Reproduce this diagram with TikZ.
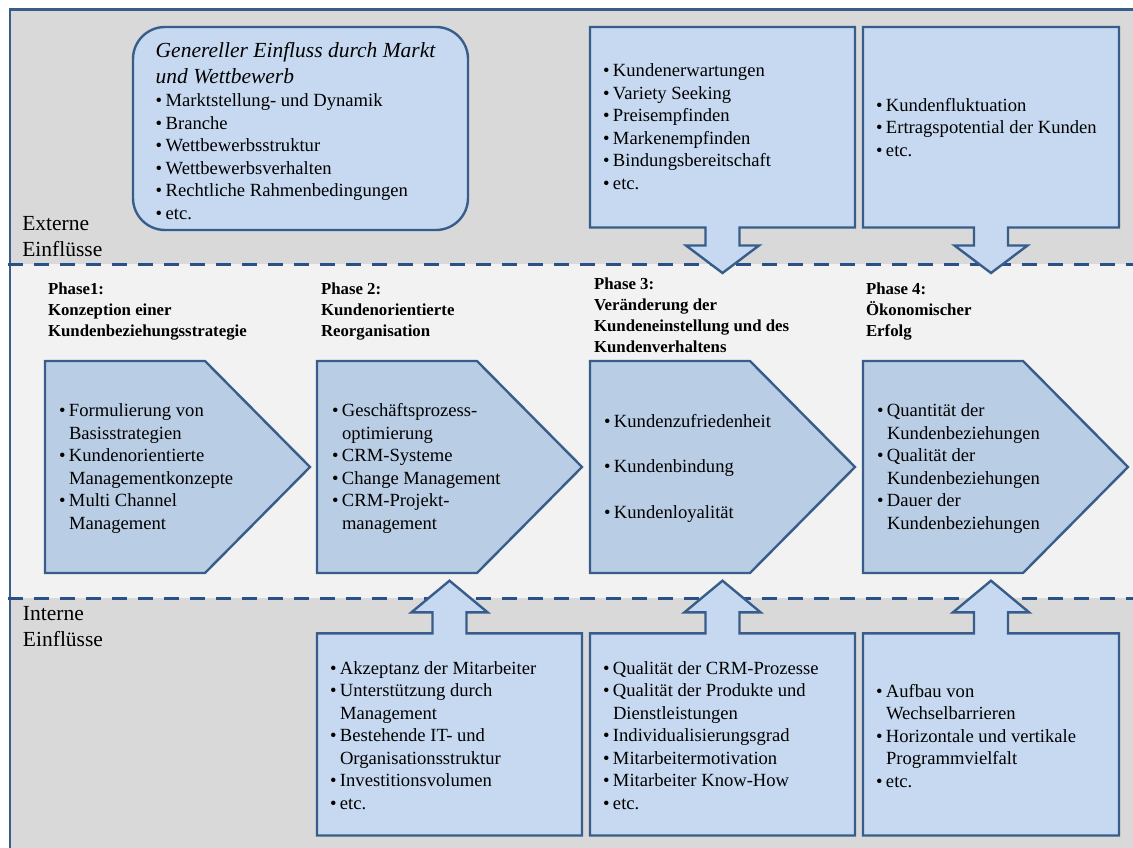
\documentclass[tikz,border=0pt]{standalone}
\usepackage{fontspec}
\setmainfont{Liberation Serif}

\definecolor{bandgray}{HTML}{D9D9D9}
\definecolor{bandlight}{HTML}{F2F2F2}
\definecolor{boxfill}{HTML}{C6D9F1}
\definecolor{phasefill}{HTML}{B9CDE5}
\definecolor{edge}{HTML}{385D8A}
\definecolor{dashblue}{HTML}{2A5088}

% bullet line and continuation line inside the lists
\newcommand\li{\strut\makebox[10pt][l]{\textbullet}}
\newcommand\lc{\strut\hspace*{10pt}}

\begin{document}
\begin{tikzpicture}[x=1pt,y=-1pt,
  every node/.style={inner sep=0pt, outer sep=0pt},
  txt/.style={anchor=north west, align=left, font=\fontsize{18.6}{22.5}\selectfont},
  head/.style={anchor=north west, align=left, font=\fontsize{16.8}{21}\selectfont\bfseries},
  zone/.style={anchor=north west, align=left, font=\fontsize{21.5}{26.5}\selectfont},
  gentitle/.style={anchor=north west, align=left, font=\fontsize{21.5}{26}\selectfont\itshape},
  shapeline/.style={draw=edge, line width=2.4, line join=miter},
  callout/.style={shapeline, fill=boxfill},
  phase/.style={shapeline, fill=phasefill},
  divider/.style={draw=dashblue, line width=3.5, dash pattern=on 14.5pt off 11.5pt}]

\useasboundingbox (0,0) rectangle (1133,848);

% bands
\fill[bandgray]  (10,9.5) rectangle (1133,264.3);
\fill[bandlight] (10,264.3) rectangle (1133,598.3);
\fill[bandgray]  (10,598.3) rectangle (1133,848);
\draw[edge, line width=2.6] (1133,9.5) -- (10,9.5) -- (10,848);

% dividers between external, process and internal zones
\draw[divider] (8,264.3) -- (1133,264.3);
\draw[divider] (8,598.3) -- (1133,598.3);

% zone labels
\node[zone] (extlabel) at (22.3,211.5) {\strut Externe\\\strut Einflüsse};
\node[zone] (intlabel) at (23,601.5) {\strut Interne\\\strut Einflüsse};

% general market influence
\node[draw=edge, line width=2.4, fill=boxfill, rounded corners=32,
      minimum width=335, minimum height=203] (gen) at (300.5,128.5) {};
\node[gentitle] (gentitle) at (155.7,39.1)
  {\strut Genereller Einfluss durch Markt\\\strut und Wettbewerb};
\node[txt] (genlist) at (155.7,91)
  {\li Marktstellung- und Dynamik\\
   \li Branche\\
   \li Wettbewerbsstruktur\\
   \li Wettbewerbsverhalten\\
   \li Rechtliche Rahmenbedingungen\\
   \li etc.};

% external influences with down arrows
\path[callout] (590,27) -- (855,27) -- (855,227.5) -- (739.5,227.5) -- (739.5,245.5)
  -- (759,245.5) -- (722.5,273) -- (686,245.5) -- (705.5,245.5) -- (705.5,227.5)
  -- (590,227.5) -- cycle;
\node[txt] (kundtext) at (603,61)
  {\li Kundenerwartungen\\
   \li Variety Seeking\\
   \li Preisempfinden\\
   \li Markenempfinden\\
   \li Bindungsbereitschaft\\
   \li etc.};

\path[callout] (863,27) -- (1119,27) -- (1119,227.5) -- (1008,227.5) -- (1008,245.5)
  -- (1027.5,245.5) -- (991,273) -- (954.5,245.5) -- (974,245.5) -- (974,227.5)
  -- (863,227.5) -- cycle;
\node[txt] (erfolgtext) at (876,95.3)
  {\li Kundenfluktuation\\
   \li Ertragspotential der Kunden\\
   \li etc.};

% phase headings
\node[head] (ph1) at (48,279.3)
  {\strut Phase1:\\\strut Konzeption einer\\\strut Kundenbeziehungsstrategie};
\node[head] (ph2) at (321,279.3)
  {\strut Phase 2:\\\strut Kundenorientierte\\\strut Reorganisation};
\node[head] (ph3) at (594,274.3)
  {\strut Phase 3:\\\strut Veränderung der\\\strut Kundeneinstellung und des\\\strut Kundenverhaltens};
\node[head] (ph4) at (866,279.3)
  {\strut Phase 4:\\\strut Ökonomischer\\\strut Erfolg};

% phase chevrons
\path[phase] (45,361) -- (205,361) -- (310,467) -- (205,573) -- (45,573) -- cycle;
\path[phase] (317,361) -- (477,361) -- (582,467) -- (477,573) -- (317,573) -- cycle;
\path[phase] (590,361) -- (750,361) -- (855,467) -- (750,573) -- (590,573) -- cycle;
\path[phase] (863,361) -- (1023,361) -- (1128,467) -- (1023,573) -- (863,573) -- cycle;

\node[txt] (p1text) at (59,401)
  {\li Formulierung von\\
   \lc Basisstrategien\\
   \li Kundenorientierte\\
   \lc Managementkonzepte\\
   \li Multi Channel\\
   \lc Management};
\node[txt] (p2text) at (332,401)
  {\li Geschäftsprozess-\\
   \lc optimierung\\
   \li CRM-Systeme\\
   \li Change Management\\
   \li CRM-Projekt-\\
   \lc management};
\node[txt] (p3text) at (604,411.6)
  {\li Kundenzufriedenheit\\[23pt]
   \li Kundenbindung\\[23pt]
   \li Kundenloyalität};
\node[txt] (p4text) at (877,401)
  {\li Quantität der\\
   \lc Kundenbeziehungen\\
   \li Qualität der\\
   \lc Kundenbeziehungen\\
   \li Dauer der\\
   \lc Kundenbeziehungen};

% internal influences with up arrows
\path[callout] (317,835.5) -- (582,835.5) -- (582,633.3) -- (466.5,633.3) -- (466.5,612.3)
  -- (487.5,612.3) -- (449.5,580.7) -- (411.5,612.3) -- (432.5,612.3) -- (432.5,633.3)
  -- (317,633.3) -- cycle;
\node[txt] (int1) at (330,658.6)
  {\li Akzeptanz der Mitarbeiter\\
   \li Unterstützung durch\\
   \lc Management\\
   \li Bestehende IT- und\\
   \lc Organisationsstruktur\\
   \li Investitionsvolumen\\
   \li etc.};

\path[callout] (590,835.5) -- (855,835.5) -- (855,633.3) -- (739.5,633.3) -- (739.5,612.3)
  -- (760.5,612.3) -- (722.5,580.7) -- (684.5,612.3) -- (705.5,612.3) -- (705.5,633.3)
  -- (590,633.3) -- cycle;
\node[txt] (int2) at (603,658.6)
  {\li Qualität der CRM-Prozesse\\
   \li Qualität der Produkte und\\
   \lc Dienstleistungen\\
   \li Individualisierungsgrad\\
   \li Mitarbeitermotivation\\
   \li Mitarbeiter Know-How\\
   \li etc.};

\path[callout] (863,835.5) -- (1119,835.5) -- (1119,633.3) -- (1008,633.3) -- (1008,612.3)
  -- (1029,612.3) -- (991,580.7) -- (953,612.3) -- (974,612.3) -- (974,633.3)
  -- (863,633.3) -- cycle;
\node[txt] (int3) at (876,681.6)
  {\li Aufbau von\\
   \lc Wechselbarrieren\\
   \li Horizontale und vertikale\\
   \lc Programmvielfalt\\
   \li etc.};

\end{tikzpicture}
\end{document}
